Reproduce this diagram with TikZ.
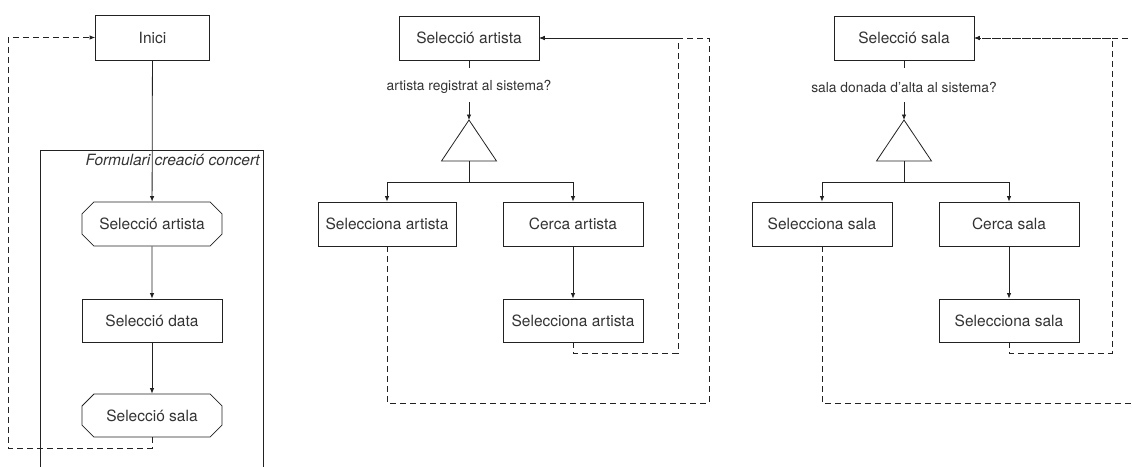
\documentclass[tikz,border=0pt]{standalone}
\usepackage{fontspec}
\setmainfont{TeX Gyre Heros}
\usetikzlibrary{shapes.misc,arrows.meta}
\definecolor{ink}{HTML}{222222}
\definecolor{txt}{HTML}{333333}
\tikzset{
  box/.style={draw=ink, line width=0.8pt, rectangle, minimum width=140pt, minimum height=44pt, inner sep=0pt, text=txt, font=\fontsize{15.5}{17}\selectfont},
  cbox/.style={box, chamfered rectangle, chamfered rectangle xsep=6pt, chamfered rectangle ysep=6pt},
  lbl/.style={text=txt, inner sep=0pt, font=\fontsize{13.8}{15}\selectfont},
  flow/.style={draw=ink, line width=0.8pt, -{Latex[length=5.5pt,width=4.5pt]}},
  plain/.style={draw=ink, line width=0.8pt},
  back/.style={draw=ink, line width=0.8pt, dash pattern=on 6pt off 4pt, -{Latex[length=5.5pt,width=4.5pt]}},
  backplain/.style={draw=ink, line width=0.8pt, dash pattern=on 6pt off 4pt},
  tri/.style={draw=ink, line width=0.8pt, fill=white},
}
\begin{document}
\begin{tikzpicture}[x=1pt,y=-1pt]
\useasboundingbox (0,0) rectangle (1132,466);
\clip (0,0) rectangle (1132,466);
% ---------- left panel ----------
\node[box, minimum width=114pt, minimum height=45pt] (inici) at (152.5,37.5) {Inici};
\draw[ink, line width=0.8pt] (263,480) -- (263,150.7) -- (40.7,150.7) -- (40.7,480);
\node[lbl, font=\fontsize{15.5}{17}\selectfont\itshape, anchor=north east] (form) at (260,154) {Formulari creació concert};
\node[cbox] (lsa) at (152,224) {Selecció artista};
\node[box, minimum height=43pt] (lsd) at (152,320.5) {Selecció data};
\node[cbox, minimum height=43pt] (lss) at (152,415.5) {Selecció sala};
\draw[flow] (inici) -- (lsa);
\draw[flow] (lsa) -- (lsd);
\draw[flow] (lsd) -- (lss);
\coordinate (lb1) at (8,448);
\draw[back] (lss.south) |- (lb1) |- (inici.west);
% ---------- middle panel ----------
\node[box] (msel) at (469,38) {Selecció artista};
\node[lbl] (mq) at (469,87) {artista registrat al sistema?};
\coordinate (mtop) at (469,120);
\coordinate (mbase) at (469,161);
\draw[tri] (mtop) -- (441.5,161) -- (496.5,161) -- cycle;
\node[box, minimum width=138pt] (ml) at (387,224) {Selecciona artista};
\node[box] (mr) at (573,224) {Cerca artista};
\node[box, minimum height=43pt] (mr2) at (573,320.5) {Selecciona artista};
\draw[plain] (msel.south) -- (469,68);
\draw[flow] (469,102) -- (mtop);
\coordinate (mfork) at (469,182);
\draw[plain] (mbase) -- (mfork);
\draw[flow] (mfork) -| (ml.north);
\draw[flow] (mfork) -| (mr.north);
\draw[flow] (mr) -- (mr2);
\coordinate (mc1) at (678,353);
\coordinate (mc2) at (709,403);
\draw[back] (mr2.south) |- (mc1) |- (msel.east);
\draw[back] (ml.south) |- (mc2) |- (msel.east);
% ---------- right panel ----------
\node[box] (rsel) at (904,38) {Selecció sala};
\node[lbl] (rq) at (904,87) {sala donada d’alta al sistema?};
\coordinate (rtop) at (904,120);
\coordinate (rbase) at (904,161);
\draw[tri] (rtop) -- (876.5,161) -- (931.5,161) -- cycle;
\node[box] (rl) at (822,224) {Selecciona sala};
\node[box] (rr) at (1009,224) {Cerca sala};
\node[box, minimum height=43pt] (rr2) at (1009,320.5) {Selecciona sala};
\draw[plain] (rsel.south) -- (904,68);
\draw[flow] (904,102) -- (rtop);
\coordinate (rfork) at (904,182);
\draw[plain] (rbase) -- (rfork);
\draw[flow] (rfork) -| (rl.north);
\draw[flow] (rfork) -| (rr.north);
\draw[flow] (rr) -- (rr2);
\coordinate (rc1) at (1112,353);
\coordinate (rc2) at (1144,403);
\draw[back] (rr2.south) |- (rc1) |- (rsel.east);
\draw[back] (rl.south) |- (rc2) |- (rsel.east);
\end{tikzpicture}
\end{document}
